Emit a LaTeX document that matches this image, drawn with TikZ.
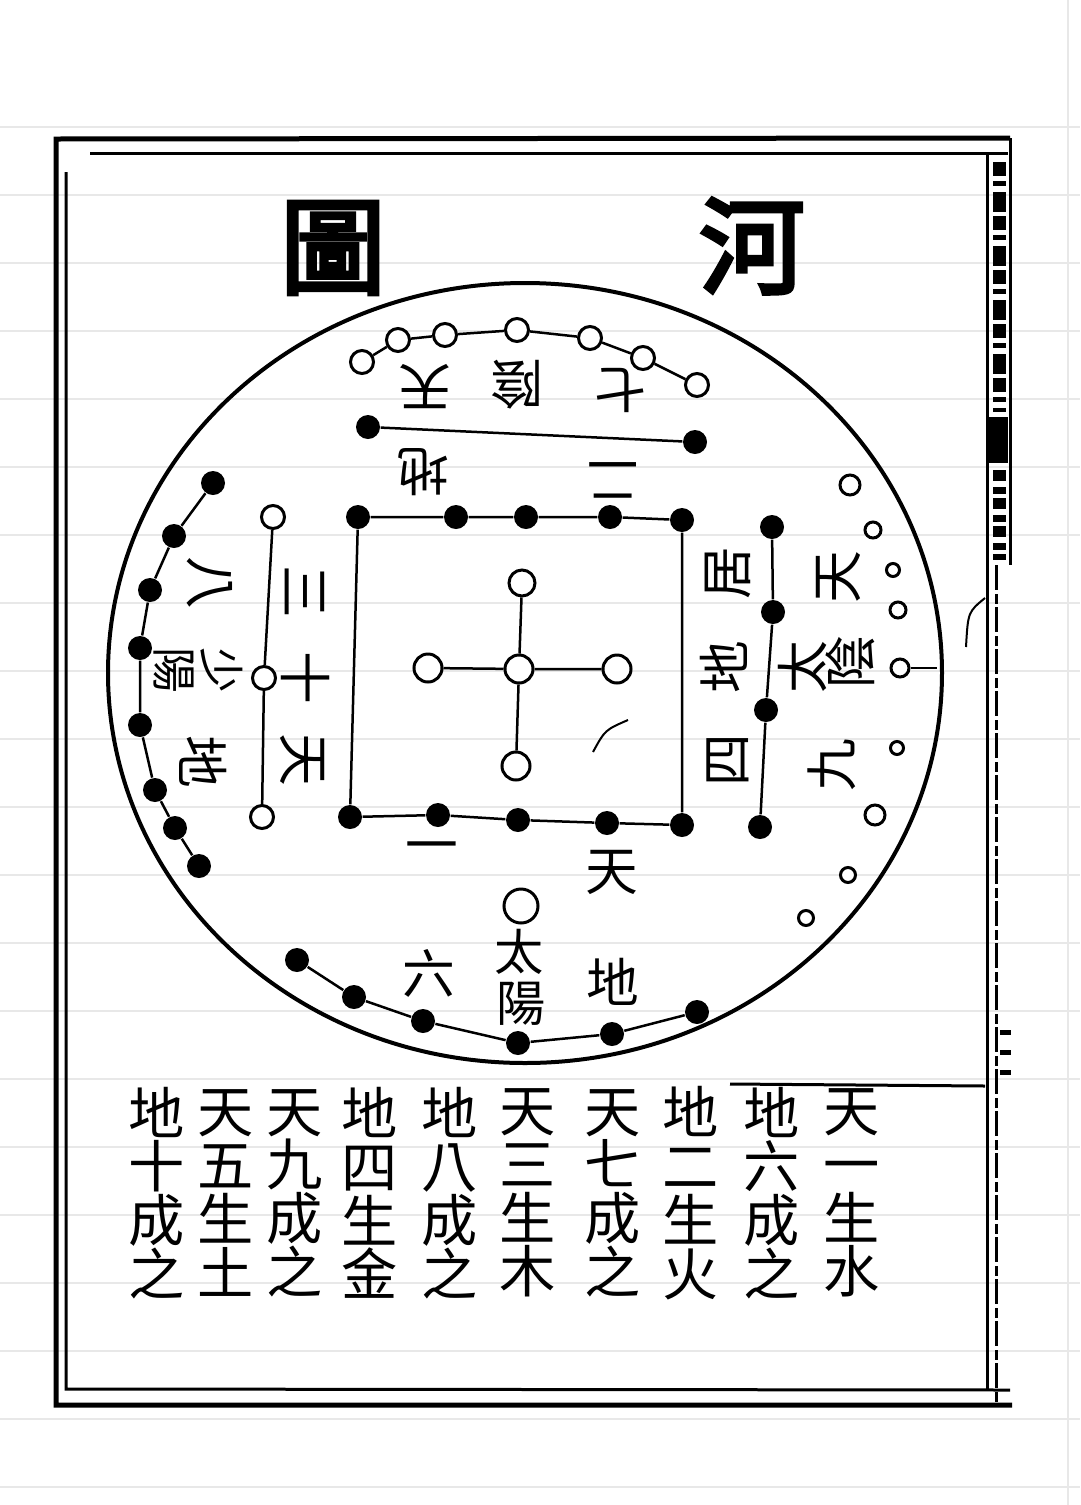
\documentclass[tikz,border=0pt]{standalone}
\usepackage{fontspec}
\newfontfamily\cjk{Noto Sans CJK TC}
\newfontfamily\cjkbold[FakeBold=4]{Noto Sans CJK TC}
\begin{document}
\begin{tikzpicture}[x=0.1mm,y=-0.1mm,
  bdot/.style={circle,fill=black,inner sep=0pt,minimum size=2.4mm},
  wdot/.style={circle,draw,fill=white,line width=0.3mm,inner sep=0pt,minimum size=2.3mm},
  sdot/.style={circle,draw,fill=white,line width=0.3mm,inner sep=0pt,minimum size=1.6mm},
  lab/.style={font=\cjk\fontsize{15}{15}\selectfont,inner sep=0pt},
  small/.style={font=\cjk\fontsize{13}{13}\selectfont,inner sep=0pt},
  tab/.style={font=\cjk\fontsize{16}{15.3}\selectfont,inner sep=0pt,align=center},
  link/.style={line width=0.25mm}]
\useasboundingbox[fill=white] (0,0) rectangle (1080,1505);
\foreach \k in {0,...,20}
  \draw[gray!18,line width=0.2mm] (0,127+68*\k) -- (1080,127+68*\k);
\draw[gray!18,line width=0.2mm] (1068,0) -- (1068,1505);
\draw[line width=0.5mm] (1010,138) -- (56,139) -- (56,1405) -- (1012,1405);
\draw[line width=0.3mm] (90,153) -- (1008,153);
\draw[line width=0.3mm] (66,172) -- (66,1389) -- (1010,1390);
\draw[line width=0.3mm] (987,153) -- (987,1390);
\draw[line width=0.3mm] (1010,138) -- (1010,565);
\draw[line width=0.3mm,dash pattern=on 2.5mm off 0.4mm on 1mm off 0.3mm] (996,565) -- (996,1405);
\draw[line width=1.3mm,dash pattern=on 1.4mm off 0.5mm on 0.5mm off 0.6mm on 2mm off 0.4mm] (999,162) -- (999,412);
\fill (988,417) rectangle (1008,463);
\draw[line width=1.3mm,dash pattern=on 1.1mm off 0.6mm on 0.7mm off 0.4mm] (999,470) -- (999,560);
\foreach \y in {1032,1052,1072}
  \draw[line width=0.5mm] (1000,\y) -- (1011,\y);
\draw[line width=0.2mm] (985,598) .. controls (968,612) .. (966,647);
\node[font=\cjkbold\fontsize{30}{30}\selectfont,inner sep=0pt] (he) at (752,246) {河};
\node[font=\cjkbold\fontsize{30}{30}\selectfont,inner sep=0pt] (tu) at (333,248) {圖};
\draw[line width=0.4mm] (525,673) ellipse [x radius=417, y radius=390];
\node[wdot] (t1) at (362,362) {};
\node[wdot] (t2) at (398,340) {};
\node[wdot] (t3) at (445,335) {};
\node[wdot] (t4) at (517,330) {};
\node[wdot] (t5) at (590,338) {};
\node[wdot] (t6) at (643,358) {};
\node[wdot] (t7) at (697,385) {};
\draw[link] (t1) -- (t2) -- (t3) -- (t4) -- (t5) -- (t6) -- (t7);
\node[bdot] (tb1) at (368,427) {};
\node[bdot] (tb2) at (695,442) {};
\draw[link] (tb1) -- (tb2);
\node[lab,rotate=180] (tian7) at (425,387) {天};
\node[lab,rotate=180] (yin7) at (517,385) {陰};
\node[lab,rotate=180] (qi) at (620,390) {七};
\node[lab,rotate=180] (di2) at (423,472) {地};
\node[lab,rotate=180] (er) at (613,480) {二};
\node[bdot] (l1) at (213,483) {};
\node[bdot] (l2) at (174,536) {};
\node[bdot] (l3) at (150,590) {};
\node[bdot] (l4) at (140,648) {};
\node[bdot] (l5) at (140,725) {};
\node[bdot] (l6) at (155,790) {};
\node[bdot] (l7) at (175,828) {};
\node[bdot] (l8) at (199,866) {};
\draw[link] (l1) -- (l2) -- (l3) -- (l4) -- (l5) -- (l6) -- (l7) -- (l8);
\node[wdot] (lw1) at (273,517) {};
\node[wdot] (lw2) at (264,678) {};
\node[wdot] (lw3) at (262,817) {};
\draw[link] (lw1) -- (lw2) -- (lw3);
\node[lab,rotate=-90] (san) at (305,592) {三};
\node[lab,rotate=-90] (shi) at (306,678) {十};
\node[lab,rotate=-90] (tian3) at (303,760) {天};
\node[lab,rotate=-90] (ba) at (210,583) {八};
\node[small,rotate=-90] (shao) at (222,670) {少};
\node[small,rotate=-90] (yang3) at (174,670) {陽};
\node[lab,rotate=-90] (di8) at (203,762) {地};
\node[bdot] (r1) at (772,527) {};
\node[bdot] (r2) at (773,612) {};
\node[bdot] (r3) at (766,710) {};
\node[bdot] (r4) at (760,827) {};
\draw[link] (r1) -- (r2) -- (r3) -- (r4);
\node[sdot,minimum size=2mm] (rw1) at (850,485) {};
\node[sdot] (rw2) at (873,530) {};
\node[sdot,minimum size=1.3mm] (rw3) at (893,570) {};
\node[sdot] (rw4) at (898,610) {};
\node[sdot,minimum size=1.8mm] (rw5) at (900,668) {};
\node[sdot,minimum size=1.3mm] (rw6) at (897,748) {};
\node[sdot,minimum size=2mm] (rw7) at (875,815) {};
\node[sdot,minimum size=1.5mm] (rw8) at (848,875) {};
\node[sdot,minimum size=1.5mm] (rw9) at (806,918) {};
\coordinate (rim) at (937,668);
\draw[line width=0.2mm] (rw5) -- (rim);
\node[lab,rotate=90] (ju) at (728,573) {居};
\node[lab,rotate=90] (di4) at (724,667) {地};
\node[lab,rotate=90] (si) at (728,760) {四};
\node[lab,rotate=90] (tian9) at (838,577) {天};
\node[lab,rotate=90] (tai9) at (803,667) {太};
\node[lab,rotate=90] (yin9) at (850,662) {陰};
\node[lab,rotate=90] (jiu) at (832,765) {九};
\node[bdot] (q1) at (358,517) {};
\node[bdot] (q2) at (456,517) {};
\node[bdot] (q3) at (526,517) {};
\node[bdot] (q4) at (610,517) {};
\node[bdot] (q5) at (682,520) {};
\node[bdot] (p1) at (350,817) {};
\node[bdot] (p2) at (438,815) {};
\node[bdot] (p3) at (518,820) {};
\node[bdot] (p4) at (607,823) {};
\node[bdot] (p5) at (682,825) {};
\draw[link] (q1) -- (q2) -- (q3) -- (q4) -- (q5) -- (p5) -- (p4) -- (p3) -- (p2) -- (p1) -- (q1);
\node[wdot,minimum size=2.8mm] (c0) at (519,669) {};
\node[wdot,minimum size=2.6mm] (cn) at (522,583) {};
\node[wdot,minimum size=2.8mm] (cs) at (516,766) {};
\node[wdot,minimum size=2.8mm] (cw) at (428,668) {};
\node[wdot,minimum size=2.8mm] (ce) at (617,669) {};
\draw[link] (cn) -- (c0) -- (cs);
\draw[link] (cw) -- (c0) -- (ce);
\draw[line width=0.2mm] (593,752) .. controls (605,730) .. (628,720);
\node[lab] (yi) at (432,853) {一};
\node[lab] (tian1) at (612,872) {天};
\node[wdot,minimum size=3.4mm] (bw) at (521,906) {};
\node[bdot] (b1) at (297,960) {};
\node[bdot] (b2) at (354,997) {};
\node[bdot] (b3) at (423,1021) {};
\node[bdot] (b4) at (518,1043) {};
\node[bdot] (b5) at (612,1034) {};
\node[bdot] (b6) at (697,1012) {};
\draw[link] (b1) -- (b2) -- (b3) -- (b4) -- (b5) -- (b6);
\node[lab,font=\cjk\fontsize{14}{14}\selectfont] (tai1) at (519,952) {太};
\node[lab,font=\cjk\fontsize{14}{14}\selectfont] (yang1) at (521,1004) {陽};
\node[lab] (liu) at (429,973) {六};
\node[lab] (di6) at (613,982) {地};
\coordinate (tabl) at (730,1084);
\coordinate (tabr) at (985,1086);
\draw[line width=0.3mm] (tabl) -- (tabr);
\node[tab] (col1) at (852,1193) {天\\一\\生\\水};
\node[tab] (col2) at (772,1193) {地\\六\\成\\之};
\node[tab] (col3) at (691,1193) {地\\二\\生\\火};
\node[tab] (col4) at (613,1193) {天\\七\\成\\之};
\node[tab] (col5) at (528,1193) {天\\三\\生\\木};
\node[tab] (col6) at (450,1193) {地\\八\\成\\之};
\node[tab] (col7) at (370,1193) {地\\四\\生\\金};
\node[tab] (col8) at (295,1193) {天\\九\\成\\之};
\node[tab] (col9) at (226,1193) {天\\五\\生\\土};
\node[tab] (col10) at (157,1193) {地\\十\\成\\之};
\end{tikzpicture}
\end{document}
